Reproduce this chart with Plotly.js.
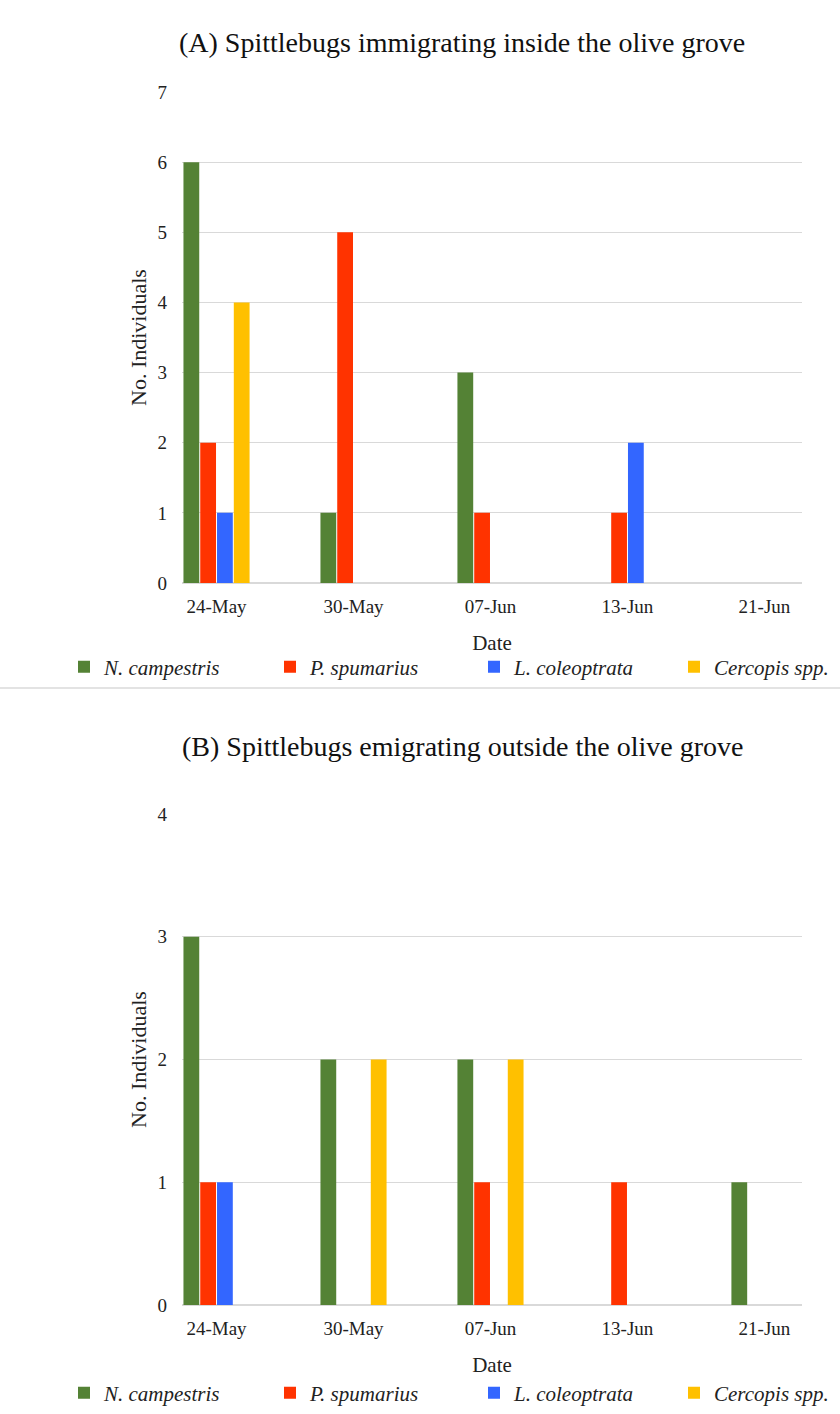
<!DOCTYPE html>
<html>
<head>
<meta charset="utf-8">
<script src="https://cdn.plot.ly/plotly-3.0.1.min.js"></script>
<style>html,body{margin:0;padding:0;background:#fff;}#chart{width:840px;height:1414px;}</style>
</head>
<body>
<div id="chart"></div>
<script>
var dates = ["24-May", "30-May", "07-Jun", "13-Jun", "21-Jun"];
var species = ["N. campestris", "P. spumarius", "L. coleoptrata", "Cercopis spp."];
var colors = ["#548235", "#FF3300", "#3366FF", "#FFC000"];

// (A) immigrating inside
var inCampestris = [6, 1, 3, 0, 0];
var inSpumarius = [2, 5, 1, 1, 0];
var inColeoptrata = [1, 0, 0, 2, 0];
var inCercopis = [4, 0, 0, 0, 0];

// (B) emigrating outside
var outCampestris = [3, 2, 2, 0, 1];
var outSpumarius = [1, 0, 1, 1, 0];
var outColeoptrata = [1, 0, 0, 0, 0];
var outCercopis = [0, 2, 2, 0, 0];

var titleA = "(A) Spittlebugs immigrating inside the olive grove";
var titleB = "(B) Spittlebugs emigrating outside the olive grove";

var serif = "Liberation Serif, Times New Roman, serif";
var seriesA = [inCampestris, inSpumarius, inColeoptrata, inCercopis];
var seriesB = [outCampestris, outSpumarius, outColeoptrata, outCercopis];

var H = 1414, W = 840;
function py(pix) { return 1 - pix / H; }
function px(pix) { return pix / W; }

// one single-entry legend per species and panel, so each entry sits where the reference shows it
var legendLeft = [64, 270, 474, 674];
function legendId(n) { return n === 1 ? "legend" : "legend" + n; }

var traces = [];
seriesA.forEach(function (vals, i) {
  traces.push({
    type: "bar", x: dates, y: vals, name: species[i],
    marker: {color: colors[i], line: {width: 0}},
    xaxis: "x", yaxis: "y", legend: legendId(i + 1), hoverinfo: "x+y+name"
  });
});
seriesB.forEach(function (vals, i) {
  traces.push({
    type: "bar", x: dates, y: vals, name: species[i],
    marker: {color: colors[i], line: {width: 0}},
    xaxis: "x2", yaxis: "y2", legend: legendId(i + 5), hoverinfo: "x+y+name"
  });
});

var xRange = [-0.252, 4.274];
var tickFont = {family: serif, size: 19, color: "#222"};

function xAxis(anchor) {
  return {
    domain: [px(182), px(802)], anchor: anchor, type: "category",
    range: xRange, showgrid: false, zeroline: false, showline: false,
    ticks: "", tickfont: tickFont, ticklabelstandoff: 10,
    title: {text: "Date", font: {family: serif, size: 21, color: "#222"}, standoff: 19},
    fixedrange: true
  };
}
function yAxis(anchor, top, bottom, maxv) {
  return {
    domain: [py(bottom), py(top)], anchor: anchor, range: [0, maxv], dtick: 1,
    showgrid: true, gridcolor: "#d9d9d9", gridwidth: 1,
    zeroline: true, zerolinecolor: "#d9d9d9", zerolinewidth: 1.5,
    showline: false, ticks: "", tickfont: tickFont, ticklabelstandoff: 14,
    title: {text: "No. Individuals", font: {family: serif, size: 22, color: "#222"}, standoff: 4},
    fixedrange: true
  };
}

function legendAt(xpix, ypix) {
  return {
    orientation: "h", x: px(xpix), xanchor: "left", y: py(ypix), yanchor: "middle",
    font: {family: serif, size: 21, color: "#222", style: "italic"},
    itemwidth: 30, bgcolor: "rgba(0,0,0,0)"
  };
}

var layout = {
  width: W, height: H,
  margin: {l: 0, r: 0, t: 0, b: 0, autoexpand: false},
  paper_bgcolor: "#fff", plot_bgcolor: "#fff",
  font: {family: serif, color: "#222"},
  barmode: "group", bargap: 0.51, bargroupgap: 0.06,
  showlegend: true,
  xaxis: xAxis("y"),
  yaxis: yAxis("x", 92, 583, 7),
  xaxis2: xAxis("y2"),
  yaxis2: yAxis("x2", 814, 1305, 4),
  annotations: [
    {text: titleA, xref: "paper", yref: "paper", x: px(462), y: py(42), xanchor: "center", yanchor: "middle",
     showarrow: false, font: {family: serif, size: 28, color: "#111"}},
    {text: titleB, xref: "paper", yref: "paper", x: px(462), y: py(746), xanchor: "center", yanchor: "middle",
     showarrow: false, font: {family: serif, size: 28, color: "#111"}}
  ],
  shapes: [
    {type: "line", xref: "paper", yref: "paper", x0: 0, x1: 1, y0: py(688), y1: py(688),
     line: {color: "#c8c8c8", width: 1.2}}
  ]
};
for (var k = 0; k < 4; k++) {
  layout[legendId(k + 1)] = legendAt(legendLeft[k], 667);
  layout[legendId(k + 5)] = legendAt(legendLeft[k], 1393);
}

Plotly.newPlot("chart", traces, layout, {displayModeBar: false, staticPlot: true});
</script>
</body>
</html>
